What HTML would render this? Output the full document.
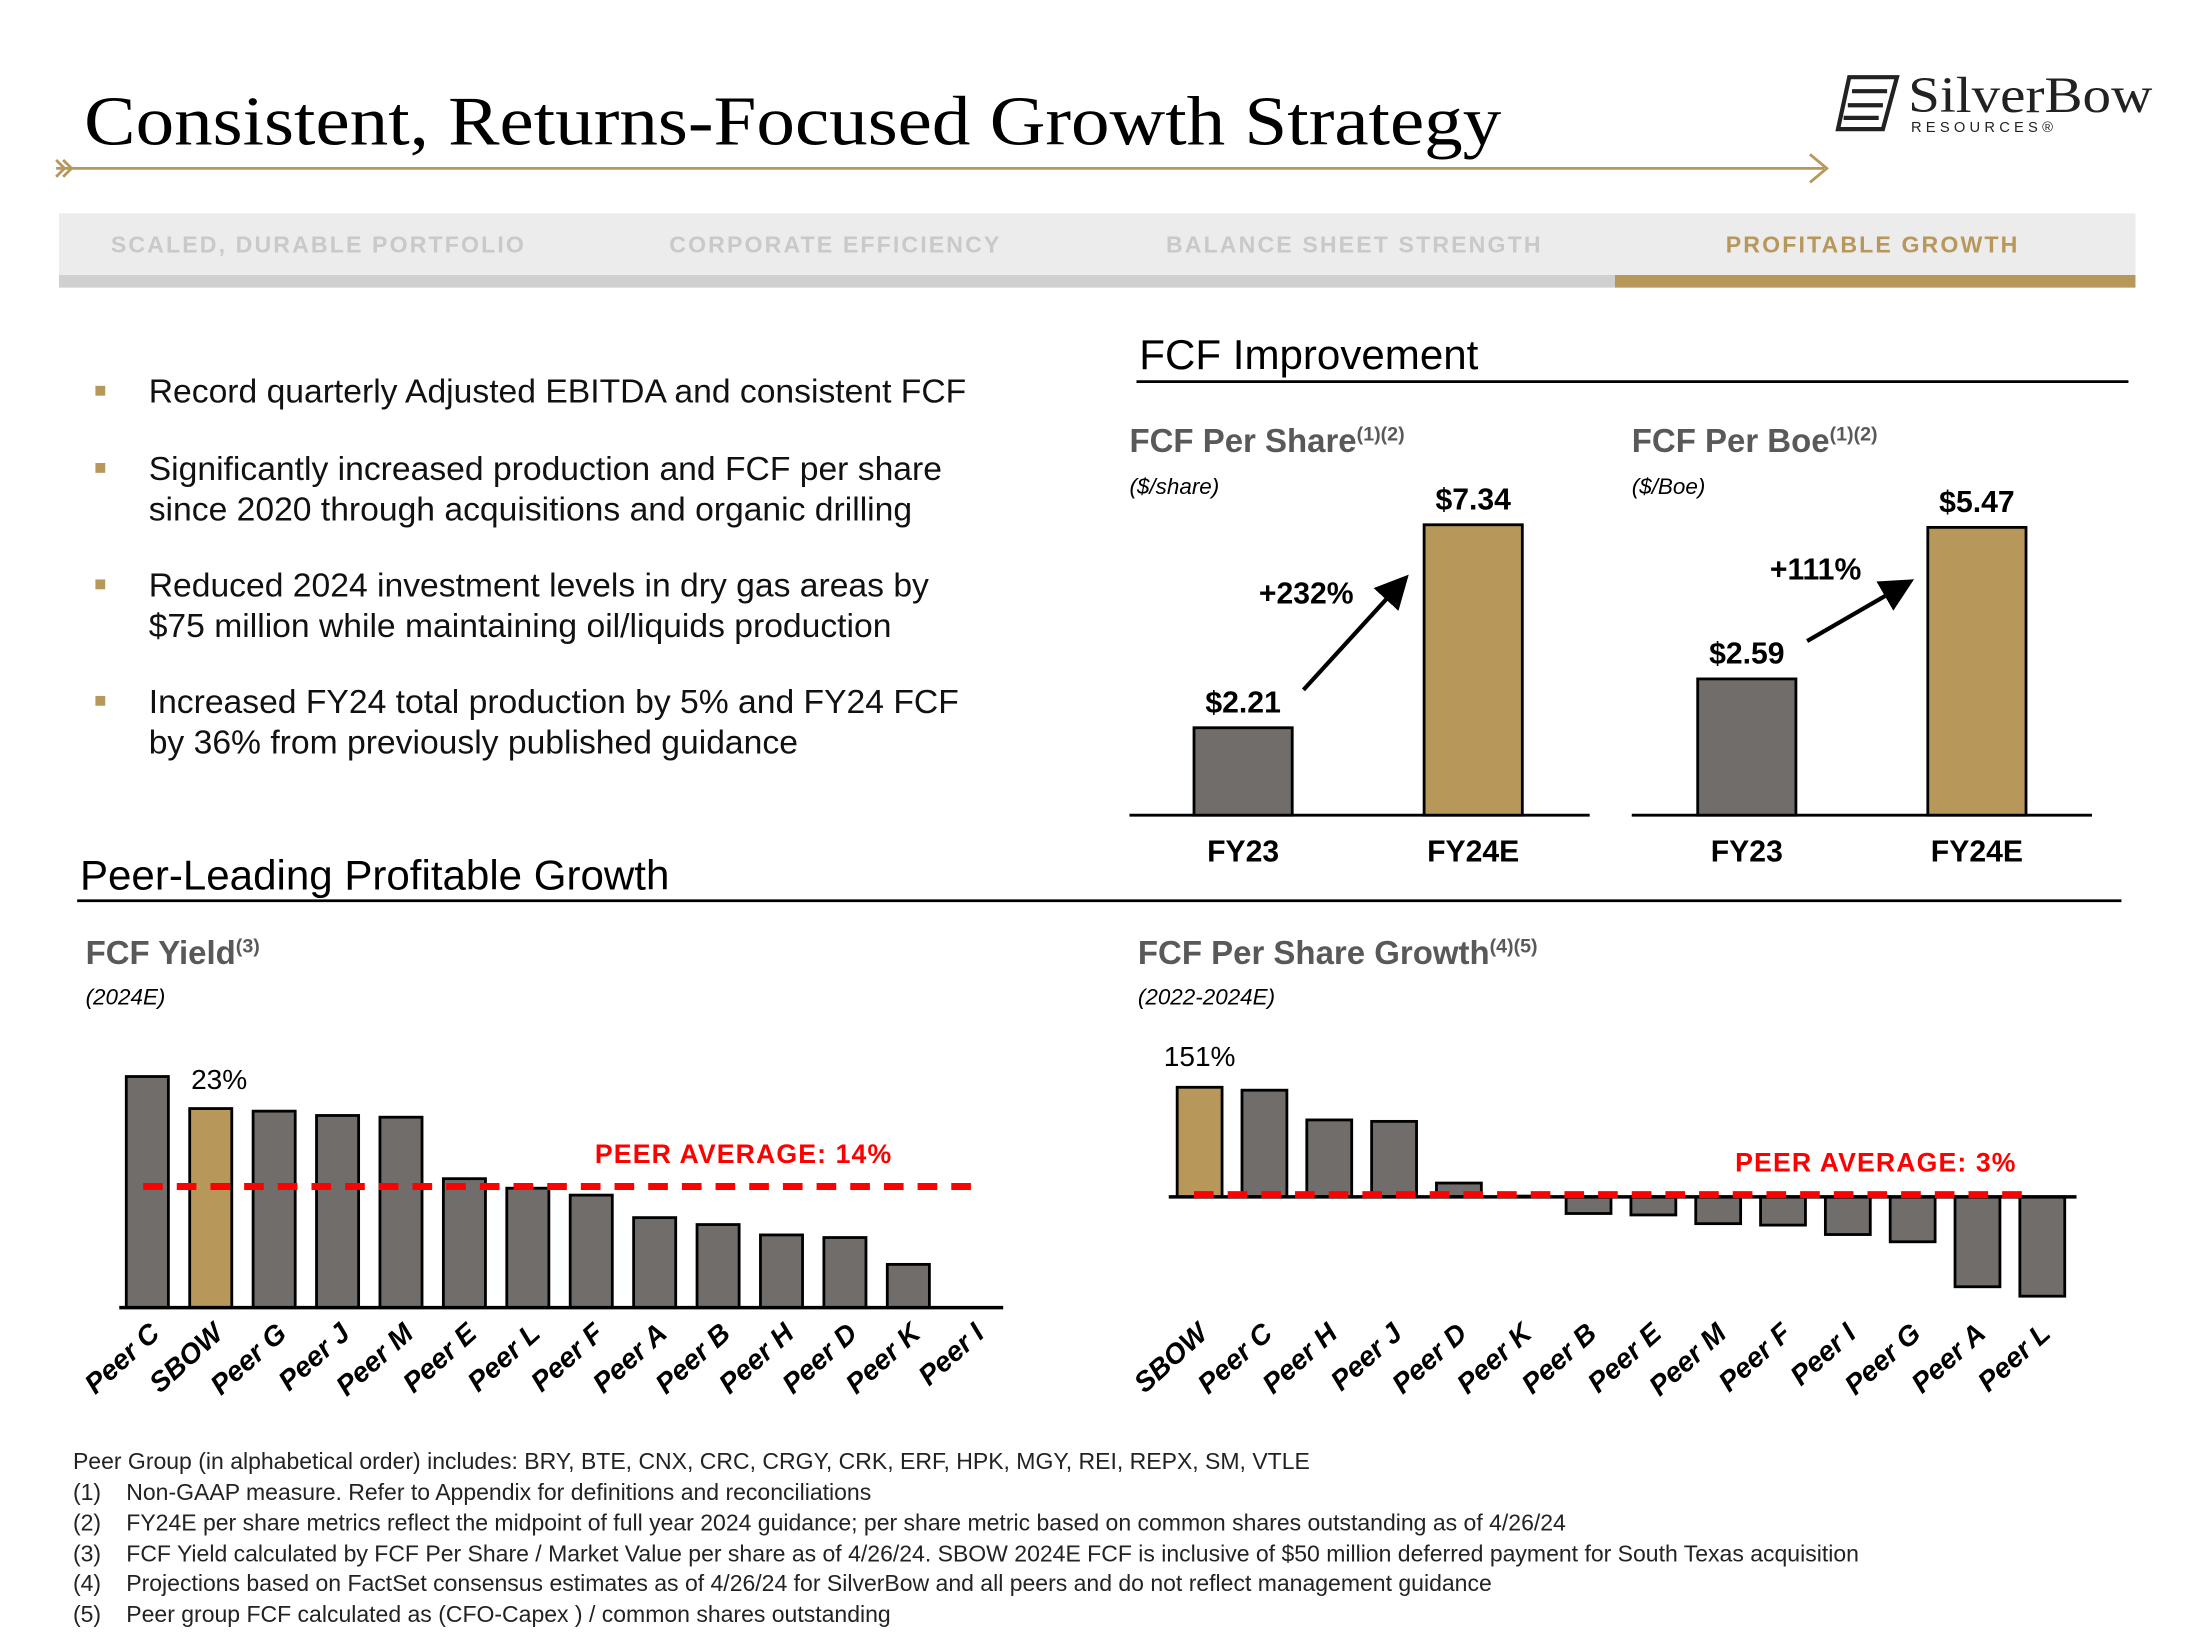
<!DOCTYPE html>
<html><head><meta charset="utf-8"><style>
html,body{margin:0;padding:0;background:#fff}
svg{display:block}
text{font-family:"Liberation Sans",Arial,sans-serif}
</style></head><body>
<svg id="s" width="2200" height="1643" viewBox="0 0 1568 1171" xmlns="http://www.w3.org/2000/svg">
<defs><marker id="ah" markerWidth="8" markerHeight="8" refX="6" refY="4" orient="auto"><path d="M0,0 L8,4 L0,8 z" fill="#000"/></marker></defs>
<text x="60" y="103" font-size="50" fill="#000" textLength="1010" lengthAdjust="spacingAndGlyphs" style="font-family:'Liberation Serif',serif">Consistent, Returns-Focused Growth Strategy</text>
<g stroke="#b8975a" stroke-width="2" fill="none">
<line x1="40" y1="120" x2="1300" y2="120"/><polyline points="1290,110 1302,120 1290,130"/><polyline points="40,114 46,120 40,126"/><polyline points="45,114 51,120 45,126"/></g>
<g>
<g stroke="#222" stroke-width="3" fill="none"><path d="M1318,55 L1352,55 L1342,92 L1310,92 Z"/><path d="M1320,65 L1345,65 M1317,75 L1342,75 M1314,84 L1339,84"/></g>
<text x="1360" y="80" style="font-family:'Liberation Serif',serif" font-size="36" textLength="174" lengthAdjust="spacingAndGlyphs" fill="#222">SilverBow</text>
<text x="1362" y="94" font-size="10.5" letter-spacing="3" fill="#222">RESOURCES®</text></g>
<rect x="42" y="152" width="1480" height="44" fill="#ececec"/>
<rect x="42" y="196" width="1109" height="9" fill="#d0d0d0"/>
<rect x="1151" y="196" width="371" height="9" fill="#b8975a"/>
<g font-size="16.5" font-weight="bold" letter-spacing="1.5" fill="#c9c9c9">
<text x="79" y="180">SCALED, DURABLE PORTFOLIO</text>
<text x="477" y="180">CORPORATE EFFICIENCY</text>
<text x="831" y="180">BALANCE SHEET STRENGTH</text>
<text x="1230" y="180" fill="#b8975a">PROFITABLE GROWTH</text></g>
<g font-size="24" fill="#111">
<rect x="68" y="275" width="7" height="7" fill="#b8975a"/><text x="106" y="287">Record quarterly Adjusted EBITDA and consistent FCF</text>
<rect x="68" y="330" width="7" height="7" fill="#b8975a"/><text x="106" y="342">Significantly increased production and FCF per share</text><text x="106" y="371">since 2020 through acquisitions and organic drilling</text>
<rect x="68" y="413" width="7" height="7" fill="#b8975a"/><text x="106" y="425">Reduced 2024 investment levels in dry gas areas by</text><text x="106" y="454">$75 million while maintaining oil/liquids production</text>
<rect x="68" y="496" width="7" height="7" fill="#b8975a"/><text x="106" y="508">Increased FY24 total production by 5% and FY24 FCF</text><text x="106" y="537">by 36% from previously published guidance</text></g>
<text x="812" y="263" font-size="30">FCF Improvement</text>
<line x1="810" y1="272" x2="1517" y2="272" stroke="#000" stroke-width="2"/>
<text x="57" y="634" font-size="30">Peer-Leading Profitable Growth</text>
<line x1="55" y1="642" x2="1512" y2="642" stroke="#000" stroke-width="2"/>
<g fill="#595959">
<text x="805" y="322" font-size="23.5" font-weight="bold">FCF Per Share<tspan font-size="14" dy="-8">(1)(2)</tspan></text>
<text x="805" y="352" font-size="16" font-style="italic" fill="#000">($/share)</text>
<text x="1163" y="322" font-size="23.5" font-weight="bold">FCF Per Boe<tspan font-size="14" dy="-8">(1)(2)</tspan></text>
<text x="1163" y="352" font-size="16" font-style="italic" fill="#000">($/Boe)</text>
<text x="61" y="687" font-size="23.5" font-weight="bold">FCF Yield<tspan font-size="14" dy="-8">(3)</tspan></text>
<text x="61" y="716" font-size="16" font-style="italic" fill="#000">(2024E)</text>
<text x="811" y="687" font-size="23.5" font-weight="bold">FCF Per Share Growth<tspan font-size="14" dy="-8">(4)(5)</tspan></text>
<text x="811" y="716" font-size="16" font-style="italic" fill="#000">(2022-2024E)</text></g>
<g id="charts"></g>
<g font-size="16.4" fill="#222">
<text x="52" y="1047">Peer Group (in alphabetical order) includes: BRY, BTE, CNX, CRC, CRGY, CRK, ERF, HPK, MGY, REI, REPX, SM, VTLE</text>
<text x="52" y="1069">(1)</text><text x="90" y="1069">Non-GAAP measure. Refer to Appendix for definitions and reconciliations</text>
<text x="52" y="1091">(2)</text><text x="90" y="1091">FY24E per share metrics reflect the midpoint of full year 2024 guidance; per share metric based on common shares outstanding as of 4/26/24</text>
<text x="52" y="1113">(3)</text><text x="90" y="1113">FCF Yield calculated by FCF Per Share / Market Value per share as of 4/26/24. SBOW 2024E FCF is inclusive of $50 million deferred payment for South Texas acquisition</text>
<text x="52" y="1134">(4)</text><text x="90" y="1134">Projections based on FactSet consensus estimates as of 4/26/24 for SilverBow and all peers and do not reflect management guidance</text>
<text x="52" y="1156">(5)</text><text x="90" y="1156">Peer group FCF calculated as (CFO-Capex ) / common shares outstanding</text></g>
</svg>
<script>
const shareCats=["FY23","FY24E"];
const shareVals=[2.21,7.34];
const boeCats=["FY23","FY24E"];
const boeVals=[2.59,5.47];
const yieldCats=["Peer C","SBOW","Peer G","Peer J","Peer M","Peer E","Peer L","Peer F","Peer A","Peer B","Peer H","Peer D","Peer K","Peer I"];
const yieldVals=[26.7,23,22.7,22.2,22,14.9,13.8,13,10.4,9.6,8.4,8.1,5,0];
const yieldAvg=14;
const growthCats=["SBOW","Peer C","Peer H","Peer J","Peer D","Peer K","Peer B","Peer E","Peer M","Peer F","Peer I","Peer G","Peer A","Peer L"];
const growthVals=[151,147,106,104,19,1,-23,-25,-37,-39,-52,-62,-124,-137];
const growthAvg=3;
const NS="http://www.w3.org/2000/svg";
const G=document.getElementById('charts');
function mk(tag,attrs,parent){const e=document.createElementNS(NS,tag);for(const k in attrs)e.setAttribute(k,attrs[k]);(parent||G).appendChild(e);return e;}
function txt(x,y,s,attrs){const e=mk('text',Object.assign({x:x,y:y},attrs||{}));e.textContent=s;return e;}
function twoBar(cats,vals,x0,x1,base,scale,cx,name,pct,pctPos){
  mk('line',{x1:x0,y1:base,x2:x1,y2:base,stroke:'#000','stroke-width':2});
  cats.forEach((c,i)=>{
    const h=vals[i]*scale;
    const r=mk('rect',{x:cx[i]-35,y:base-h,width:70,height:h,fill:i?'#b8975a':'#716d6a',stroke:'#000','stroke-width':2});
    
    
    txt(cx[i],base-h-11,'$'+vals[i].toFixed(2),{'font-size':21.5,'font-weight':'bold','text-anchor':'middle'});
    txt(cx[i],base+33,c,{'font-size':21.5,'font-weight':'bold','text-anchor':'middle'});
  });
  const h0=vals[0]*scale,h1=vals[1]*scale;
  mk('line',{x1:cx[0]+43,y1:base-h0-27,x2:cx[1]-50,y2:base-h1+40,stroke:'#000','stroke-width':3,'marker-end':'url(#ah)'});
  txt(pctPos[0],pctPos[1],pct,{'font-size':21.5,'font-weight':'bold','text-anchor':'middle'});
}
twoBar(shareCats,shareVals,805,1133,581,28.2,[886,1050],'fcf-per-share','+232%',[931,430]);
twoBar(boeCats,boeVals,1163,1491,581,37.5,[1245,1409],'fcf-per-boe','+111%',[1294,413]);
(function(){
  const base=932,sc=6.17,x0=105,step=45.2;
  const xs=i=>x0+i*step, ys=v=>base-v*sc;
  yieldCats.forEach((c,i)=>{
    const v=yieldVals[i];
    if(v>0){const r=mk('rect',{x:xs(i)-15,y:ys(v),width:30,height:v*sc,fill:c==='SBOW'?'#b8975a':'#716d6a',stroke:'#000','stroke-width':2});
    
    }
    const t=txt(xs(i)+10,952,c,{'font-size':20,'font-weight':'bold','font-style':'italic','text-anchor':'end',transform:'rotate(-42 '+(xs(i)+10)+' 952)'});
    
    
  });
  mk('line',{x1:85,y1:base,x2:715,y2:base,stroke:'#000','stroke-width':2.5});
  txt(xs(1)+6,ys(yieldVals[1])-14,yieldVals[1]+'%',{'font-size':20,'text-anchor':'middle'});
  mk('line',{x1:102,y1:ys(yieldAvg),x2:697,y2:ys(yieldAvg),stroke:'#f00','stroke-width':5,'stroke-dasharray':'14 10'});
  txt(530,829,'PEER AVERAGE: '+yieldAvg+'%',{'font-size':19,'font-weight':'bold',fill:'#f00','text-anchor':'middle','letter-spacing':'0.8'});
})();
(function(){
  const base=853,sc=0.517,x0=855,step=46.2;
  const xs=i=>x0+i*step, ys=v=>base-v*sc;
  growthCats.forEach((c,i)=>{
    const v=growthVals[i];
    const y=Math.min(ys(v),base),h=Math.abs(v*sc);
    const r=mk('rect',{x:xs(i)-16,y:y,width:32,height:h,fill:c==='SBOW'?'#b8975a':'#716d6a',stroke:'#000','stroke-width':2});
    
    
    const t=txt(xs(i)+7,952,c,{'font-size':20,'font-weight':'bold','font-style':'italic','text-anchor':'end',transform:'rotate(-42 '+(xs(i)+7)+' 952)'});
    
    
  });
  mk('line',{x1:833,y1:base,x2:1480,y2:base,stroke:'#000','stroke-width':2.5});
  txt(xs(0),ys(growthVals[0])-15,growthVals[0]+'%',{'font-size':20,'text-anchor':'middle'});
  mk('line',{x1:851,y1:ys(growthAvg),x2:1450,y2:ys(growthAvg),stroke:'#f00','stroke-width':5,'stroke-dasharray':'14 10'});
  txt(1337,835,'PEER AVERAGE: '+growthAvg+'%',{'font-size':19,'font-weight':'bold',fill:'#f00','text-anchor':'middle','letter-spacing':'0.8'});
})();
</script>
</body></html>
